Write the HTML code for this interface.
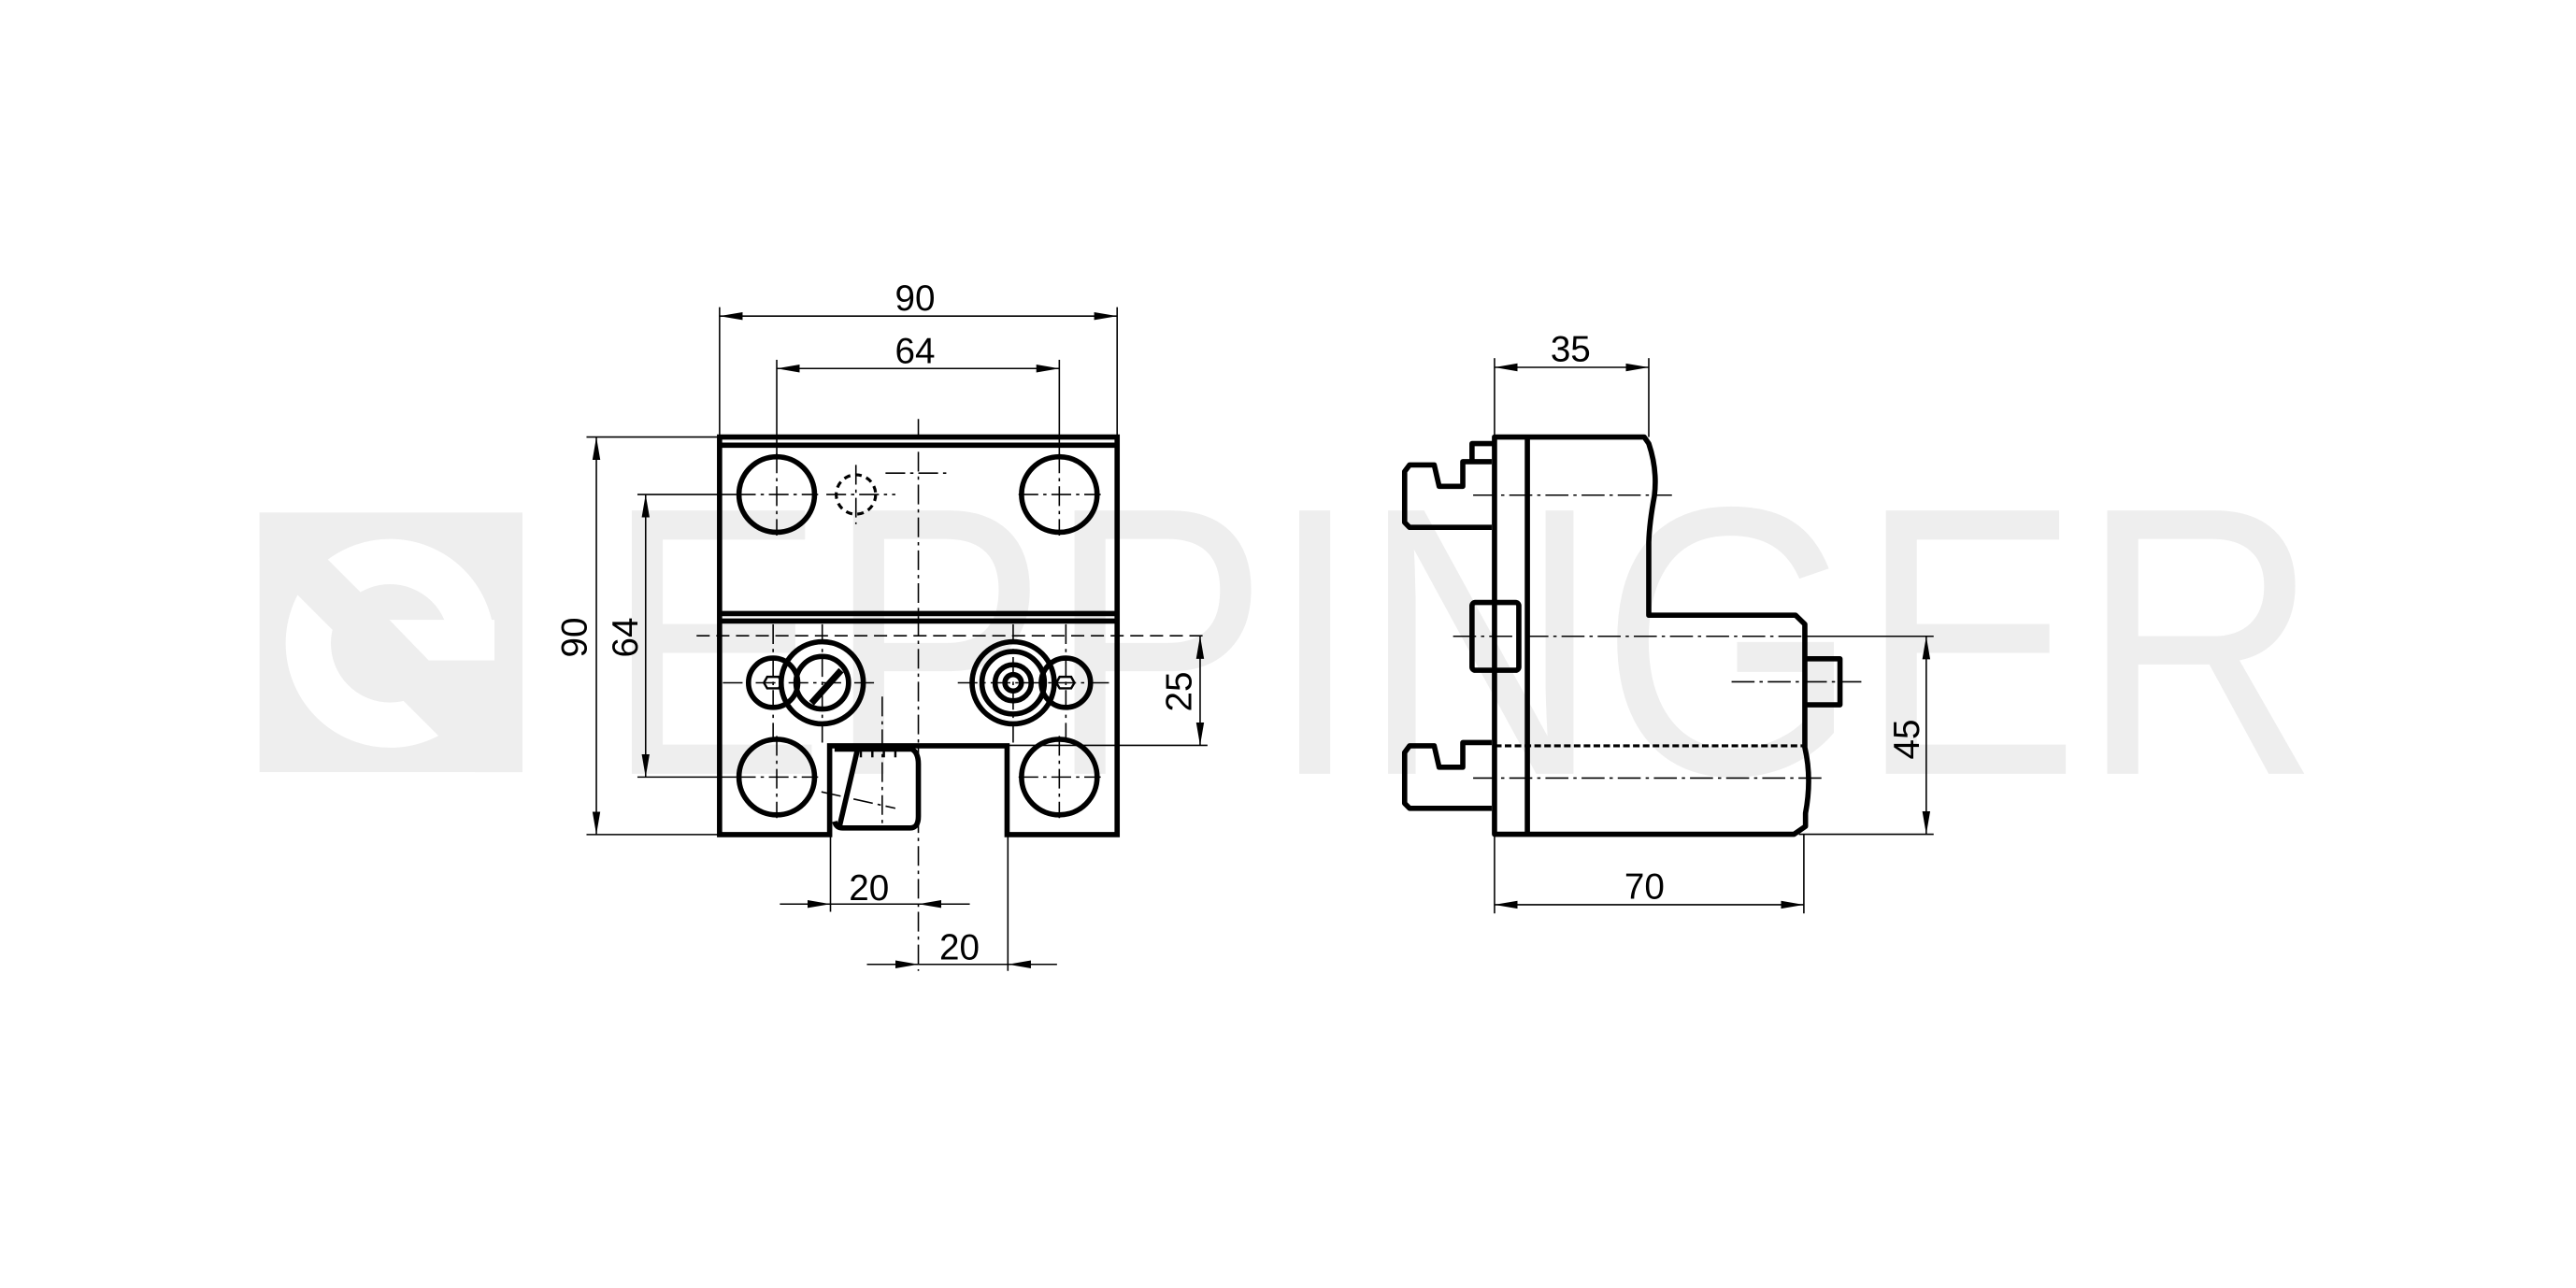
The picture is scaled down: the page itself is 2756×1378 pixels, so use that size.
<!DOCTYPE html>
<html><head><meta charset="utf-8"><style>
html,body{margin:0;padding:0;background:#fff;}
svg{display:block;}
text{font-family:"Liberation Sans",sans-serif;}
</style></head><body>
<svg width="2756" height="1378" viewBox="0 0 1568 784" xmlns="http://www.w3.org/2000/svg">
<defs>
<marker id="a" viewBox="0 0 14 6" refX="14" refY="3" markerWidth="14" markerHeight="6" markerUnits="userSpaceOnUse" orient="auto-start-reverse">
<path d="M0,0.6 L14,3 L0,5.4 Z" fill="#000"/></marker>
<clipPath id="lc"><rect x="158" y="312" width="160" height="158"/></clipPath>
</defs>
<!-- watermark -->
<rect x="158" y="312" width="160" height="158" fill="#eeeeee"/>
<g clip-path="url(#lc)">
<circle cx="237.4" cy="391.6" r="49.75" fill="none" stroke="#fff" stroke-width="27.5"/>
<polygon points="237,377.3 301,377.3 301,402 261,402" fill="#fff"/>
<polygon points="150,291 237,378 237,418 150,331" fill="#eeeeee"/>
<polygon points="237,402 320,402 320,501 237,418" fill="#eeeeee"/>
</g>
<text x="368" y="471" font-size="233" fill="#eeeeee" textLength="1044" lengthAdjust="spacingAndGlyphs">EPPINGER</text>

<g fill="none" stroke="#000" stroke-linecap="butt">
<!-- LEFT VIEW -->
<g stroke-width="3.2">
<path d="M438,266 H680 V508 H613 V454 H505 V508 H438 Z"/>
<line x1="438" y1="271" x2="680" y2="271"/>
<line x1="438" y1="373.5" x2="680" y2="373.5"/>
<line x1="438" y1="378" x2="680" y2="378"/>
<circle cx="472.8" cy="301" r="23"/><circle cx="644.8" cy="301" r="23"/>
<circle cx="472.8" cy="473" r="23"/><circle cx="644.8" cy="473" r="23"/>
<circle cx="470.6" cy="415.6" r="15"/><circle cx="648.8" cy="415.6" r="15"/>
<circle cx="500.5" cy="415.6" r="25"/><circle cx="500.5" cy="415.6" r="16"/>
<circle cx="616.7" cy="415.6" r="25"/><circle cx="616.7" cy="415.6" r="19"/><circle cx="616.7" cy="415.6" r="11"/><circle cx="616.7" cy="415.6" r="5"/>
<path d="M508,456 H555 Q559,458 559,465 V497 Q559,504 554,504 H513 Q509,504 508,500"/>
<line x1="522" y1="456" x2="511" y2="503"/>
</g>
<g stroke-width="1.4">
<polygon points="467,412 474,412 476,415.6 474,419 467,419 465,415.6"/>
<polygon points="645,412 652,412 654,415.6 652,419 645,419 643,415.6"/>
<path d="M494,428 L512,408" stroke-width="4"/>
<line x1="524" y1="456" x2="524" y2="461"/><line x1="531" y1="456" x2="531" y2="461"/><line x1="538" y1="456" x2="538" y2="461"/><line x1="545" y1="456" x2="545" y2="461"/>
</g>
<circle cx="521" cy="301" r="12" stroke-width="1.8" stroke-dasharray="4 3"/>
<g stroke-width="0.9" stroke-dasharray="12 3 2 3">
<line x1="559" y1="255" x2="559" y2="591"/>
<line x1="424" y1="387" x2="734" y2="387" stroke-dasharray="8 4"/>
<line x1="448" y1="301" x2="498" y2="301"/><line x1="472.8" y1="276" x2="472.8" y2="326"/>
<line x1="620" y1="301" x2="670" y2="301"/><line x1="644.8" y1="276" x2="644.8" y2="326"/>
<line x1="448" y1="473" x2="498" y2="473"/><line x1="472.8" y1="448" x2="472.8" y2="498"/>
<line x1="620" y1="473" x2="670" y2="473"/><line x1="644.8" y1="448" x2="644.8" y2="498"/>
<line x1="503" y1="301" x2="545" y2="301"/><line x1="521" y1="283" x2="521" y2="319"/>
<line x1="539" y1="288" x2="578" y2="288"/>
<line x1="440" y1="415.6" x2="535" y2="415.6"/><line x1="583" y1="415.6" x2="678" y2="415.6"/>
<line x1="470.6" y1="380" x2="470.6" y2="450"/><line x1="500.5" y1="380" x2="500.5" y2="452"/>
<line x1="616.7" y1="380" x2="616.7" y2="452"/><line x1="648.8" y1="380" x2="648.8" y2="450"/>
<line x1="537" y1="424" x2="537" y2="505"/>
<line x1="500" y1="482" x2="545" y2="492"/>
</g>
<!-- left dims -->
<g stroke-width="0.9">
<line x1="438" y1="266" x2="438" y2="187"/><line x1="680" y1="266" x2="680" y2="187"/>
<line x1="438" y1="192.4" x2="680" y2="192.4" marker-start="url(#a)" marker-end="url(#a)"/>
<line x1="472.8" y1="278" x2="472.8" y2="219"/><line x1="644.8" y1="278" x2="644.8" y2="219"/>
<line x1="472.8" y1="224.3" x2="644.8" y2="224.3" marker-start="url(#a)" marker-end="url(#a)"/>
<line x1="438" y1="266" x2="357" y2="266"/><line x1="438" y1="508" x2="357" y2="508"/>
<line x1="363" y1="266" x2="363" y2="508" marker-start="url(#a)" marker-end="url(#a)"/>
<line x1="448" y1="301" x2="388" y2="301"/><line x1="448" y1="473" x2="388" y2="473"/>
<line x1="393" y1="301" x2="393" y2="473" marker-start="url(#a)" marker-end="url(#a)"/>
<line x1="613.5" y1="453.7" x2="735" y2="453.7"/>
<line x1="730.5" y1="387" x2="730.5" y2="453.7" marker-start="url(#a)" marker-end="url(#a)"/>
<line x1="505.5" y1="508" x2="505.5" y2="555"/><line x1="613.5" y1="508" x2="613.5" y2="591"/>
<line x1="474.7" y1="550.3" x2="505.5" y2="550.3" marker-end="url(#a)"/>
<line x1="590.3" y1="550.3" x2="559" y2="550.3" marker-end="url(#a)"/>
<line x1="505.5" y1="550.3" x2="559" y2="550.3"/>
<line x1="527.7" y1="587" x2="559" y2="587" marker-end="url(#a)"/>
<line x1="643.4" y1="587" x2="613.5" y2="587" marker-end="url(#a)"/>
<line x1="559" y1="587" x2="613.5" y2="587"/>
</g>

<!-- RIGHT VIEW -->
<g stroke-width="3.2" stroke-linejoin="round">
<path d="M909.7,266 H1000.8 L1003.6,270 Q1009,286 1007,302 Q1004,318 1003.6,330 V374.5 H1093 L1098.6,380 V455 Q1103,474 1099,495 V503 L1092,507.8 H909.7 Z"/>
<line x1="929.7" y1="266" x2="929.7" y2="507.8"/>
<path d="M908,281 H890.4 V296 H876 L873,283 H858 L855,287 V318 L858,321 H908"/>
<path d="M908,452 H890.4 V467 H876 L873,454 H858 L855,458 V489 L858,492 H908"/>
<path d="M896,281 V270 H909"/>
<rect x="896" y="366.7" width="28.5" height="41.3" rx="2"/>
<path d="M1098.6,401 H1120 V429 H1098.6"/>
</g>
<line x1="910" y1="454" x2="1098" y2="454" stroke-width="1.8" stroke-dasharray="4 2"/>
<g stroke-width="0.9" stroke-dasharray="14 3 2 3">
<line x1="896.7" y1="301.4" x2="1017.7" y2="301.4"/>
<line x1="884.5" y1="387.3" x2="1098" y2="387.3"/>
<line x1="1054" y1="415" x2="1133" y2="415"/>
<line x1="896.7" y1="473.6" x2="1111" y2="473.6"/>
</g>
<g stroke-width="0.9">
<line x1="1098" y1="387.3" x2="1177" y2="387.3"/>
<line x1="1095" y1="507.8" x2="1177" y2="507.8"/>
<line x1="1172.5" y1="387.3" x2="1172.5" y2="507.8" marker-start="url(#a)" marker-end="url(#a)"/>
<line x1="909.7" y1="266" x2="909.7" y2="218"/><line x1="1003.6" y1="266" x2="1003.6" y2="218"/>
<line x1="909.7" y1="223.6" x2="1003.6" y2="223.6" marker-start="url(#a)" marker-end="url(#a)"/>
<line x1="909.7" y1="508" x2="909.7" y2="556"/><line x1="1098" y1="508" x2="1098" y2="556"/>
<line x1="909.7" y1="550.7" x2="1098" y2="550.7" marker-start="url(#a)" marker-end="url(#a)"/>
</g>
</g>

<g font-size="22" fill="#000" text-anchor="middle">
<text x="557" y="189">90</text>
<text x="557" y="221">64</text>
<text x="529" y="548">20</text>
<text x="584" y="584">20</text>
<text x="956" y="220">35</text>
<text x="1001" y="547">70</text>
<text transform="translate(357,388) rotate(-90)">90</text>
<text transform="translate(388,388) rotate(-90)">64</text>
<text transform="translate(725,421) rotate(-90)">25</text>
<text transform="translate(1168,450) rotate(-90)">45</text>
</g>
</svg>
</body></html>
